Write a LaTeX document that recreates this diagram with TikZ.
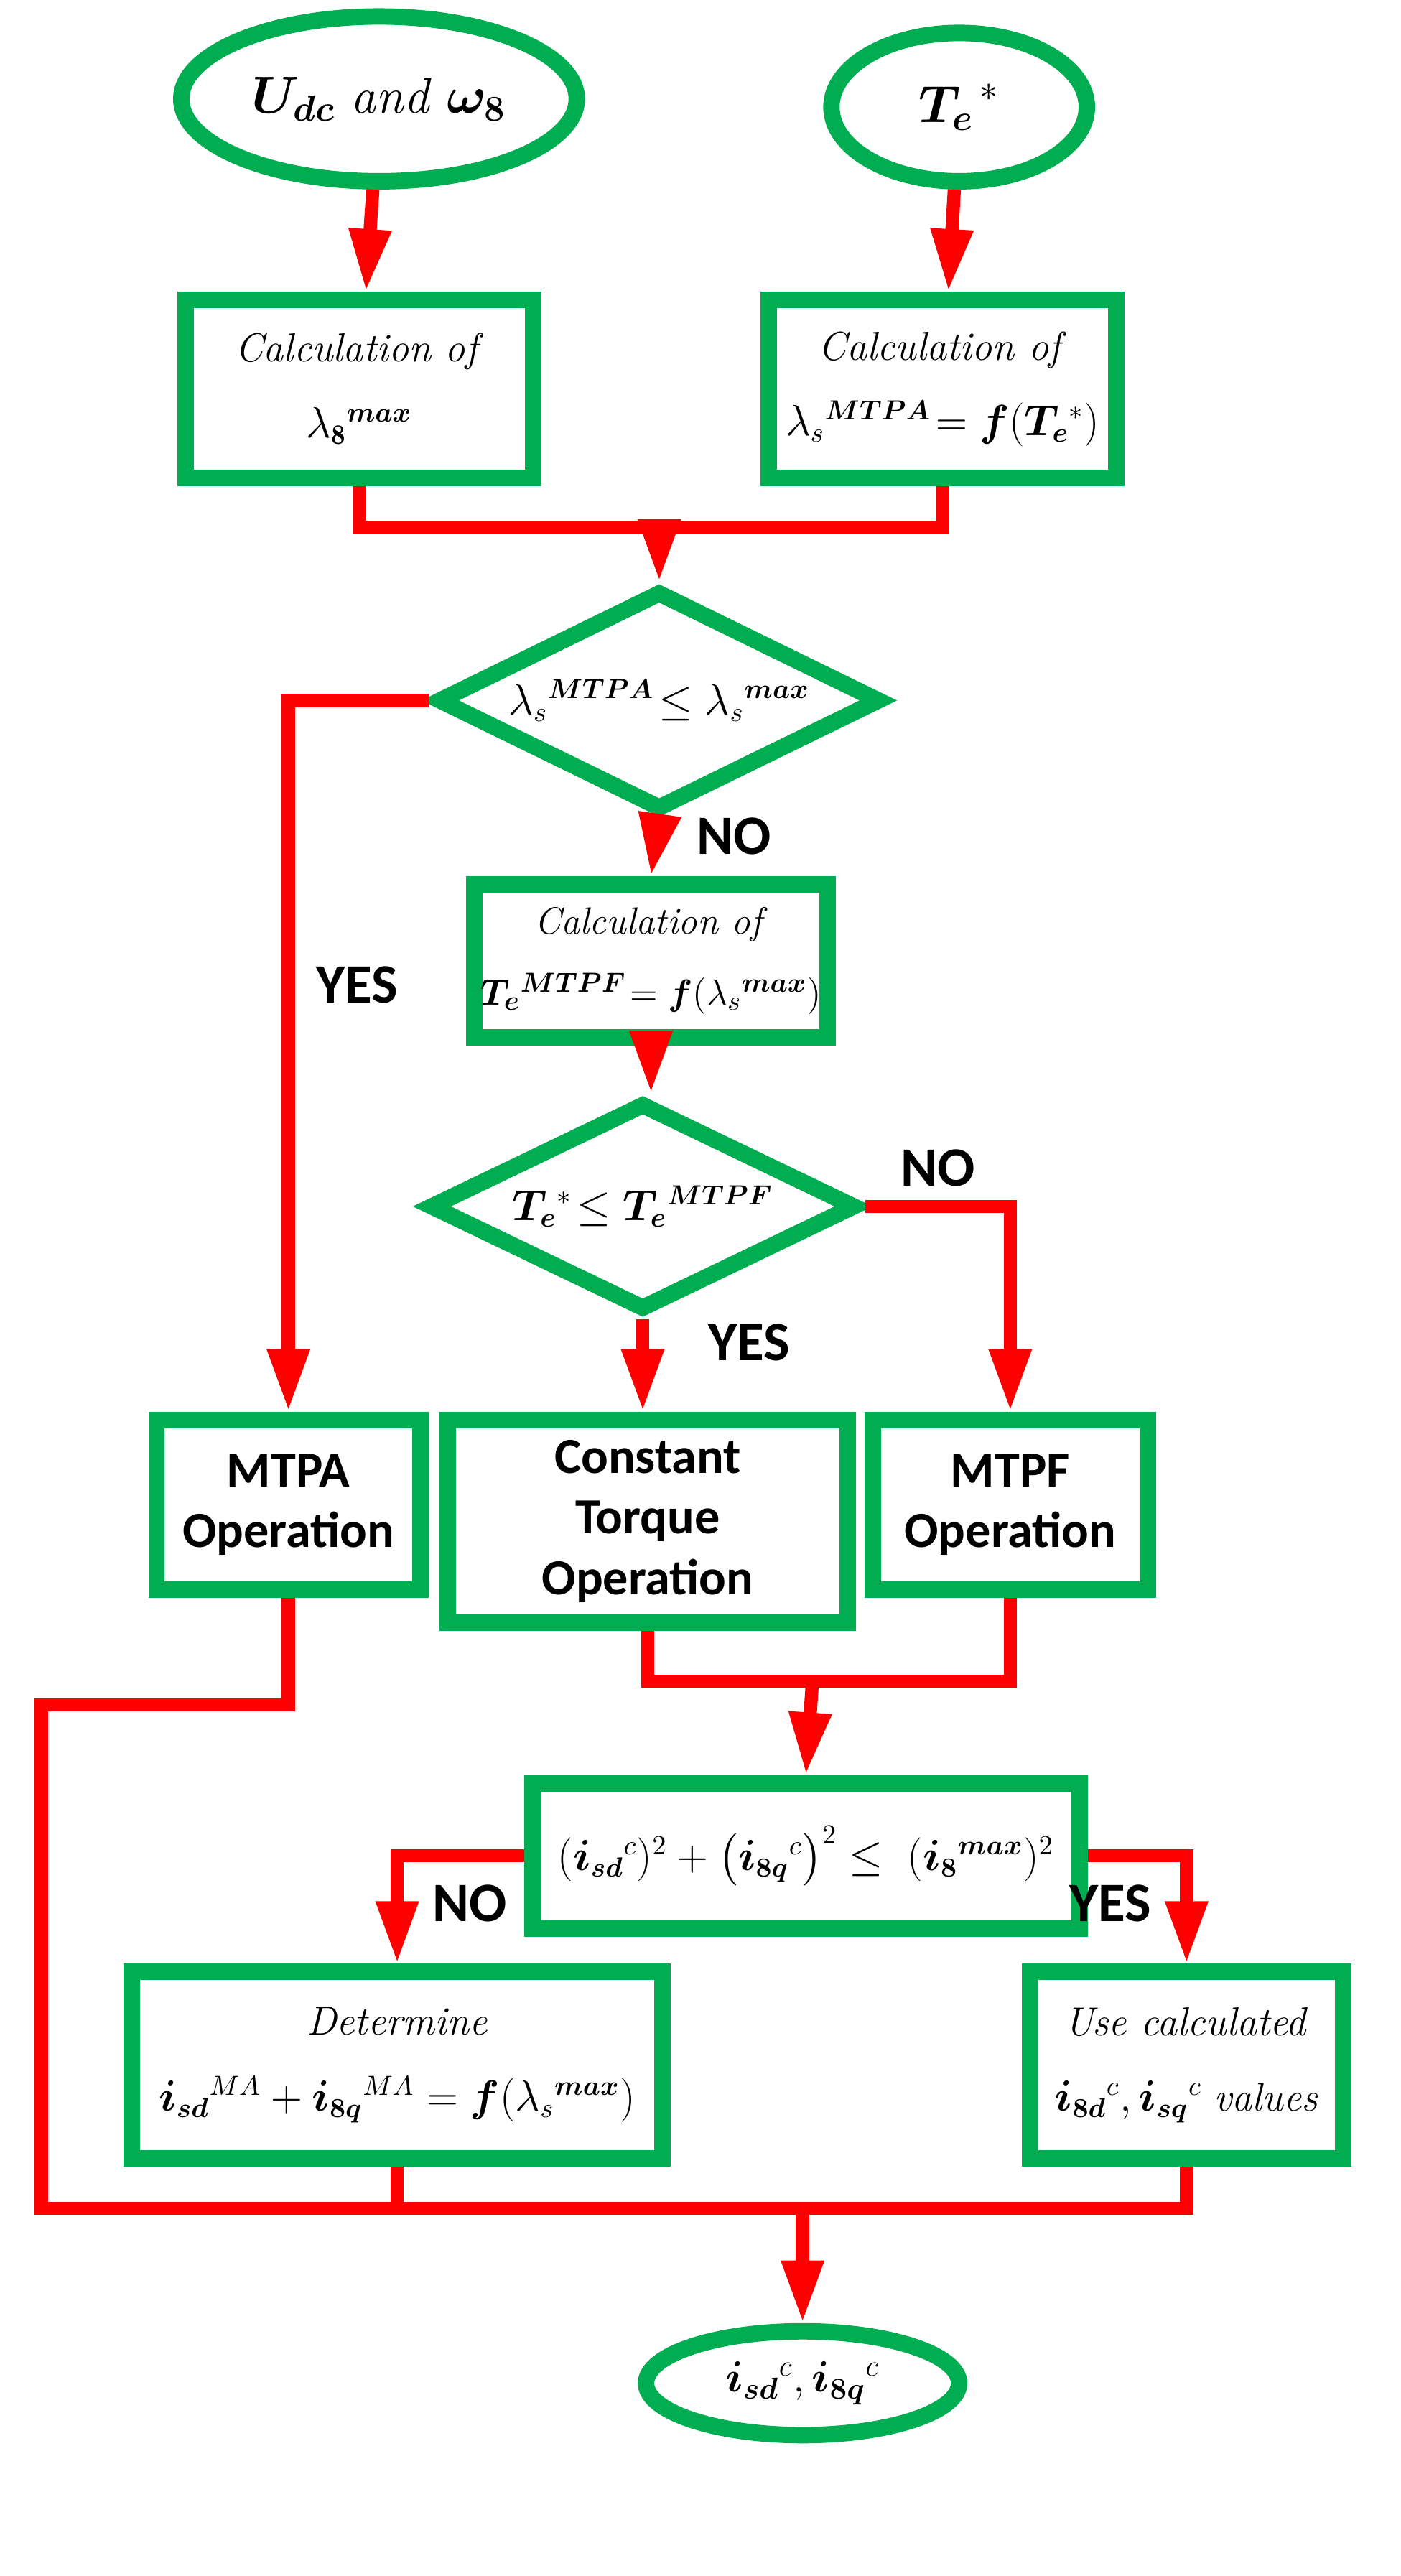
\documentclass[tikz,border=0pt]{standalone}
\usepackage{fontspec}
\usepackage{amsmath}
\newfontfamily\calibri{Carlito}
\usetikzlibrary{shapes.geometric,arrows.meta}
\definecolor{boxgreen}{RGB}{0,173,80}
\def\u{0.02295cm}
\begin{document}
\begin{tikzpicture}[
		x=\u, y=-\u,
		box/.style = {draw=boxgreen, line width=10*\u, fill=white, inner sep=2pt, align=center, font=\fontsize{16}{30}\selectfont},
		term/.style = {draw=boxgreen, line width=10*\u, ellipse, inner sep=0pt, font=\fontsize{20}{24}\selectfont},
		cond/.style = {draw=boxgreen, line width=10*\u, diamond, aspect=2, inner sep=0pt, font=\fontsize{16}{20}\selectfont},
		op/.style = {box, font=\calibri\bfseries\fontsize{20}{24}\selectfont},
		flow/.style = {draw=red, line width=8*\u},
		go/.style = {flow, -{Triangle[length=38*\u, width=24*\u]}},
		tag/.style = {font=\calibri\bfseries\fontsize{22}{24}\selectfont},
	]
	\path[use as bounding box] (0,0) rectangle (850,1563);
	% inputs
	\node[term, minimum width=240*\u, minimum height=100*\u] (udc) at (230,60) {$\boldsymbol{U_{dc}}$ \textit{and} $\boldsymbol{\omega_8}$};
	\node[term, minimum width=155*\u, minimum height=90*\u] (te) at (582,65) {$\boldsymbol{T_e}^{\,*}$};
	\node[box, minimum width=211*\u, minimum height=108*\u] (lmax) at (218,236) {\textit{Calculation of}\\ $\lambda_{\mathbf{8}}{}^{\boldsymbol{max}}$};
	\node[box, minimum width=211*\u, minimum height=108*\u] (lmtpa) at (572,236) {\textit{Calculation of}\\ $\lambda_s{}^{\boldsymbol{MTPA}} \!= \boldsymbol{f}(\boldsymbol{T_e}{}^{*})$};
	% checks
	\node[cond, minimum width=270*\u, minimum height=134*\u] (d1) at (400,425) {$\lambda_s{}^{\boldsymbol{MTPA}}\!\le \lambda_s{}^{\boldsymbol{max}}$};
	\node[box, minimum width=214*\u, minimum height=93*\u, font=\fontsize{15}{28}\selectfont] (tmtpf) at (395,583) {\textit{Calculation of}\\ $\boldsymbol{T_e}{}^{\boldsymbol{MTPF}} \!= \boldsymbol{f}(\lambda_s{}^{\boldsymbol{max}})$};
	\node[cond, minimum width=260*\u, minimum height=127*\u] (d2) at (390,732) {$\boldsymbol{T_e}{}^{*}\!\le \boldsymbol{T_e}{}^{\boldsymbol{MTPF}}$};
	% operations
	\node[op, minimum width=160*\u, minimum height=103*\u] (mtpa) at (175,913) {MTPA\\ Operation};
	\node[op, minimum width=243*\u, minimum height=123*\u] (ct) at (393,923) {Constant\\ Torque\\ Operation};
	\node[op, minimum width=167*\u, minimum height=103*\u] (mtpf) at (613,913) {MTPF\\ Operation};
	\node[box, minimum width=332*\u, minimum height=88*\u] (lim) at (489,1126) {$(\boldsymbol{i_{sd}}{}^{c})^2 + \big(\boldsymbol{i_{8q}}{}^{c}\big)^2 \le\ (\boldsymbol{i_8}{}^{\boldsymbol{max}})^2$};
	\node[box, minimum width=322*\u, minimum height=113*\u] (ma) at (241,1253) {\textit{Determine}\\ $\boldsymbol{i_{sd}}{}^{MA} + \boldsymbol{i_{8q}}{}^{MA} = \boldsymbol{f}(\lambda_s{}^{\boldsymbol{max}})$};
	\node[box, minimum width=190*\u, minimum height=113*\u] (use) at (720,1253) {\textit{Use calculated}\\ $\boldsymbol{i_{8d}}{}^{c}, \boldsymbol{i_{sq}}{}^{c}$ \textit{values}};
	\node[term, minimum width=190*\u, minimum height=63*\u, font=\fontsize{17}{20}\selectfont] (out) at (487,1446) {$\boldsymbol{i_{sd}}{}^{c}, \boldsymbol{i_{8q}}{}^{c}$};
	% junctions
	\coordinate (j1) at (400,320);
	\coordinate (j2) at (493,1020);
	\coordinate (j3) at (487,1340);
	% connectors
	\draw[go] (udc) -- (lmax);
	\draw[go] (te) -- (lmtpa);
	\draw[flow] (lmax.south) |- (j1) -| (lmtpa.south);
	\draw[go] (j1) -- (d1.north);
	\draw[go] (d1.west) -| (mtpa.north) node[tag, pos=0.7, right=5pt] {YES};
	\draw[go] (d1.south) -- (tmtpf.north) node[tag, pos=0.3, right=10pt] {NO};
	\draw[go] (tmtpf.south) -- (tmtpf.south |- d2.north);
	\draw[go] (d2.east) -| (mtpf.north) node[tag, pos=0.25, above=2pt] {NO};
	\draw[go] (d2.south) -- (d2.south |- ct.north) node[tag, pos=0.25, right=20pt] {YES};
	\draw[flow] (ct.south) |- (j2) -| (mtpf.south);
	\draw[go] (j2) -- (lim.north);
	\draw[go] (lim.west) -| (ma.north) node[tag, pos=0.72, right=8pt] {NO};
	\draw[go] (lim.east) -| (use.north) node[tag, pos=0.72, left=8pt] {YES};
	\draw[flow] (mtpa.south) -- ++(0,65) -| (25,1340) -- (use.south |- j3) -- (use.south);
	\draw[flow] (ma.south) -- (ma.south |- j3);
	\draw[go] (j3) -- (out.north);
\end{tikzpicture}
\end{document}
